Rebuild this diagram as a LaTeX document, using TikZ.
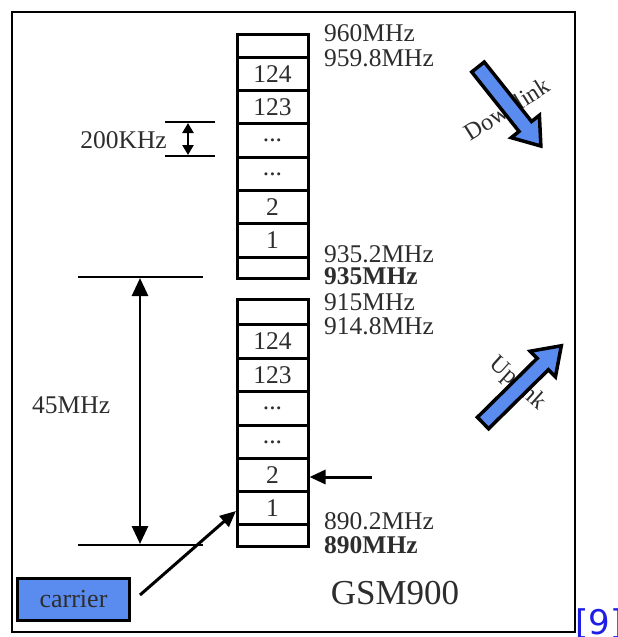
\documentclass[tikz,border=0pt]{standalone}
\usepackage{fontspec}
\setmainfont{Liberation Serif}
\newfontfamily\citefont{DejaVu Sans}
\usetikzlibrary{arrows.meta}
\definecolor{bandblue}{RGB}{90,140,240}
\definecolor{txt}{RGB}{45,45,45}
\definecolor{citeblue}{RGB}{30,30,230}
\tikzset{
  cell/.style={draw=black, line width=3pt, minimum width=71pt, inner sep=0pt, text=txt,
               font=\fontsize{25.5}{25.5}\selectfont, anchor=north},
  flabel/.style={anchor=west, inner sep=0pt, text=txt, font=\fontsize{25.5}{25.5}\selectfont},
  flabelb/.style={flabel, font=\fontsize{25.5}{25.5}\selectfont\bfseries},
  dimline/.style={line width=2.8pt},
  dimarrow/.style={line width=2.8pt, {Triangle[length=18pt,width=16pt]}-{Triangle[length=18pt,width=16pt]}},
  ptr/.style={line width=3pt, -{Triangle[length=16pt,width=14pt]}},
  bigarrow/.style={fill=bandblue, draw=black, line width=3.5pt, line join=miter},
}
\begin{document}
\begin{tikzpicture}[x=1pt,y=-1pt]
\useasboundingbox (0,0) rectangle (618,637);
\draw[line width=2.6pt] (12,12) rectangle (575,632);

% upper stack
\node[cell, minimum height=23pt] (u0) at (272.5,33) {};
\node[cell, minimum height=33pt] (u124) at (272.5,56) {124};
\node[cell, minimum height=33pt] (u123) at (272.5,89) {123};
\node[cell, minimum height=34pt] (ud1) at (272.5,122) {\raisebox{-2pt}{...}};
\node[cell, minimum height=33pt] (ud2) at (272.5,156) {\raisebox{-2pt}{...}};
\node[cell, minimum height=33pt] (u2) at (272.5,189) {2};
\node[cell, minimum height=34pt] (u1) at (272.5,222) {1};
\node[cell, minimum height=21pt] (ue) at (272.5,256) {};

\node[flabel] (l960) at (324,33) {960MHz};
\node[flabel] (l9598) at (324,58) {959.8MHz};
\node[flabel] (l9352) at (324,254) {935.2MHz};
\node[flabelb] (l935) at (324,276) {935MHz};

% lower stack
\node[cell, minimum height=25pt] (d0) at (272.5,298) {};
\node[cell, minimum height=34pt] (d124) at (272.5,323) {124};
\node[cell, minimum height=33pt] (d123) at (272.5,357) {123};
\node[cell, minimum height=34pt] (dd1) at (272.5,390) {\raisebox{-2pt}{...}};
\node[cell, minimum height=33pt] (dd2) at (272.5,424) {\raisebox{-2pt}{...}};
\node[cell, minimum height=33pt] (d2) at (272.5,457) {2};
\node[cell, minimum height=33pt] (d1) at (272.5,490) {1};
\node[cell, minimum height=22pt] (de) at (272.5,523) {};

\node[flabel] (l915) at (324,302) {915MHz};
\node[flabel] (l9148) at (324,326) {914.8MHz};
\node[flabel] (l8902) at (324,521) {890.2MHz};
\node[flabelb] (l890) at (324,545) {890MHz};

% 200KHz spacing
\coordinate (k1a) at (165,122); \coordinate (k1b) at (215,122);
\coordinate (k2a) at (165,156); \coordinate (k2b) at (215,156);
\draw[dimline] (k1a) -- (k1b);
\draw[dimline] (k2a) -- (k2b);
\coordinate (k1m) at (188,123); \coordinate (k2m) at (188,155);
\draw[line width=2.6pt, {Triangle[length=10pt,width=11pt]}-{Triangle[length=10pt,width=11pt]}] (k1m) -- (k2m);
\node[flabel, anchor=east] (k200) at (167,140) {200KHz};

% 45MHz duplex spacing
\coordinate (t1) at (78,277); \coordinate (t2) at (203,277);
\coordinate (b1) at (78,545); \coordinate (b2) at (203,545);
\draw[dimline] (t1) -- (t2);
\draw[dimline] (b1) -- (b2);
\coordinate (tm) at (140,278); \coordinate (bm) at (140,544);
\draw[dimarrow] (tm) -- (bm);
\node[flabel] (l45) at (32,405) {45MHz};

% pointer to channel 2
\coordinate (p2) at (372,477);
\draw[ptr] (p2) -- (d2.east |- p2);

% carrier
\node[draw=black, line width=3pt, fill=bandblue, minimum width=112pt, minimum height=42pt,
      inner sep=0pt, text=txt, font=\fontsize{26}{26}\selectfont] (carrier) at (73.5,599.5) {carrier};
\coordinate (cs) at (140,595);
\coordinate (ct) at (236,511);
\draw[ptr] (cs) -- (ct);

\node[inner sep=0pt, text=txt, font=\fontsize{35}{35}\selectfont] (gsm) at (395,593) {GSM900};

% Downlink arrow
\node[inner sep=0pt, text=txt, rotate=32, font=\fontsize{24}{24}\selectfont] (down) at (507,109) {Downlink};
\begin{scope}[shift={(478,67)}, rotate=-51.5]
\draw[bigarrow] (0,-8) -- (76,-8) -- (76,-18) -- (101,0) -- (76,18) -- (76,8) -- (0,8) -- cycle;
\end{scope}

% Uplink arrow
\node[inner sep=0pt, text=txt, rotate=-42, font=\fontsize{24}{24}\selectfont] (up) at (517,384) {Uplink};
\begin{scope}[shift={(483,423)}, rotate=44.6]
\draw[bigarrow] (0,-8) -- (84,-8) -- (84,-18) -- (110,0) -- (84,18) -- (84,8) -- (0,8) -- cycle;
\end{scope}

% citation mark (cropped)
\node[anchor=west, inner sep=0pt, text=citeblue, font=\citefont\fontsize{34}{34}\selectfont] (cite) at (575,624) {[9]};
\end{tikzpicture}
\end{document}
